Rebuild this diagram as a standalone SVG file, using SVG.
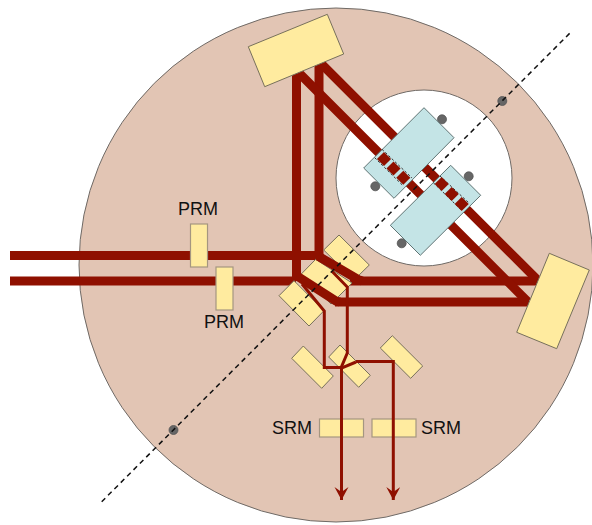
<svg xmlns="http://www.w3.org/2000/svg" width="592" height="525" viewBox="0 0 592 525">
<style>
.wall{fill:#e2c5b4;stroke:#6f6a66;stroke-width:1}
.hole{fill:#fff;stroke:#6f6a66;stroke-width:1}
.y{fill:#ffeb9f;stroke:#77705c;stroke-width:1}
.yl{fill:#ffeb9f;stroke:#a59680;stroke-width:1.2}
.t{fill:#c4e4e6;stroke:#5f7373;stroke-width:1}
.d{fill:#666;stroke:#555;stroke-width:.8}
.b{fill:none;stroke:#8f1000;stroke-width:9}
.n{fill:none;stroke:#8f1000;stroke-width:3}
.ds{fill:none;stroke:#333;stroke-width:1;stroke-dasharray:2.500 2}
.c{fill:none;stroke:#111;stroke-width:1.500;stroke-dasharray:5 4}
.sq{fill:#8f1000}
text{font-family:"Liberation Sans",Arial,sans-serif;font-size:18px;fill:#111}
</style>
<defs>
<marker id="arr" markerUnits="userSpaceOnUse" markerWidth="16" markerHeight="16" refX="13" refY="7" orient="auto">
<path d="M0,0 L13,7 L0,14 L5,7 Z" fill="#8f1000"/>
</marker>
</defs>
<g id="table"><circle class="wall" cx="336" cy="265" r="257"/></g>
<g id="vessel"><circle class="hole" cx="424" cy="178" r="88"/></g>
<g id="connectors-main">
<path class="b" d="M10,255.500H319M10,281H296M350,281H540M335,302H529"/>
<path class="b" d="M296.500,68V281M319,60V255"/>
<path class="b" d="M319,61.500L540,282.500M296,70L528,302"/>
</g>
<g id="dots">
<circle class="d" cx="442" cy="119.300" r="4.500"/>
<circle class="d" cx="375.300" cy="186.300" r="4.500"/>
<circle class="d" cx="468.700" cy="176.300" r="4.500"/>
<circle class="d" cx="401.700" cy="243.300" r="4.500"/>
<circle class="d" cx="502.300" cy="101" r="4.500"/>
<circle class="d" cx="173.500" cy="430" r="4.500"/>
</g>
<g id="testmass-1">
<path class="t" d="M424,107.700L454,137.700L394,198.300L363.700,168Z"/>
<path class="ds" d="M382,149.300L412,178M374.700,157.700L403.300,186"/>
<g class="sq">
<rect x="-5" y="-5" width="10" height="10" transform="translate(384,159) rotate(45)"/>
<rect x="-5" y="-5" width="10" height="10" transform="translate(393.500,168.500) rotate(45)"/>
<rect x="-5" y="-5" width="10" height="10" transform="translate(403.300,177.700) rotate(45)"/>
</g>
</g>
<g id="testmass-2">
<path class="t" d="M450.700,165.300L480.700,195.300L420.300,255.300L390.300,225.300Z"/>
<path class="ds" d="M440,176L469.300,203.300M433.300,182.700L462,210.700"/>
<g class="sq">
<rect x="-5" y="-5" width="10" height="10" transform="translate(441.700,184) rotate(45)"/>
<rect x="-5" y="-5" width="10" height="10" transform="translate(451.700,194) rotate(45)"/>
<rect x="-5" y="-5" width="10" height="10" transform="translate(461.700,204) rotate(45)"/>
</g>
</g>
<g id="mirror-top"><path class="y" d="M327.300,14.300L343.700,54L264.700,86.700L248.300,46.700Z"/></g>
<g id="mirror-right"><path class="y" d="M549.300,253.300L589.300,270L556.700,348.700L516.700,332.300Z"/></g>
<g id="prm-1"><rect class="yl" x="190.500" y="224" width="17" height="43"/><text x="178" y="215">PRM</text></g>
<g id="prm-2"><rect class="yl" x="216" y="267" width="17" height="43"/><text x="204" y="328">PRM</text></g>
<g id="bs-a"><path class="y" d="M339,235L369.300,265L354,280L323.700,250Z"/></g>
<g id="bs-b"><path class="y" d="M315.700,259.300L352,283L331,304L301,274.300Z"/></g>
<g id="bs-c"><path class="y" d="M294,280.700L324,310.700L309,326L279,295.700Z"/></g>
<g id="fold-left"><path class="y" d="M303.300,346L333.300,376L321.700,388.300L291.700,358.300Z"/></g>
<g id="fold-mid"><path class="y" d="M340,345L370.300,375.300L358.700,387.300L328.700,357Z"/></g>
<g id="fold-right"><path class="y" d="M392.300,335.700L422.700,366L410.700,378.300L380.300,348Z"/></g>
<g id="srm-1"><rect class="yl" x="319.500" y="419" width="44" height="18"/><text x="272" y="434">SRM</text></g>
<g id="srm-2"><rect class="yl" x="372" y="419" width="44" height="18"/><text x="421" y="434">SRM</text></g>
<g id="connectors-reflected">
<path class="n" d="M331.700,271L347.300,287V353L340.800,368.300"/>
<path class="n" d="M302,284L324.300,311V367.500H340.800"/>
<path class="n" d="M340.800,368.300L356,362"/>
<path class="n" marker-end="url(#arr)" d="M341.500,368V500"/>
<path class="n" marker-end="url(#arr)" d="M356,361.500H393.300V500"/>
<path class="b" d="M318,256L358,279.500L362,281"/>
<path class="b" d="M297,276L336,301L340,302"/>
</g>
<g id="axis"><path class="c" d="M101.700,501.700L572,31"/></g>
</svg>
